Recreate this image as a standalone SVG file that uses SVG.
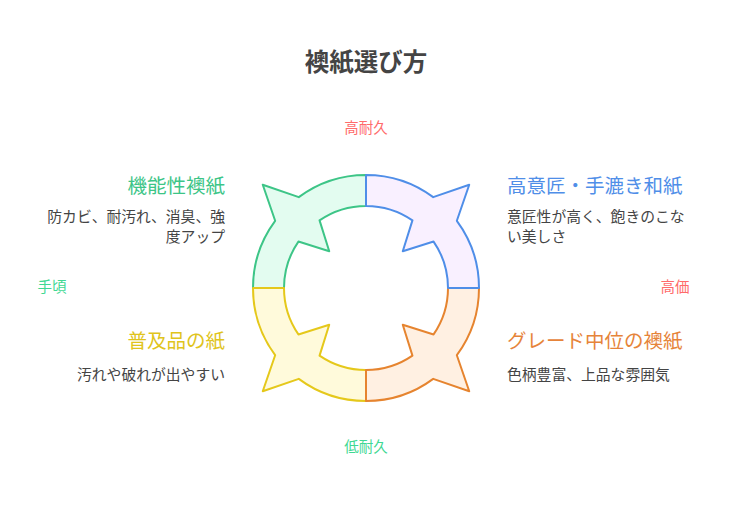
<svg xmlns="http://www.w3.org/2000/svg" width="732" height="522" viewBox="0 0 732 522">
<defs>
<style>
text{font-family:"Noto Sans CJK JP","Noto Sans",sans-serif;}
.title{font-size:24.5px;font-weight:bold;fill:#444;text-anchor:middle;}
.axis{font-size:14.5px;text-anchor:middle;}
.hi{fill:#ff6b6b;}
.lo{fill:#3fd893;}
.head{font-size:19.5px;}
.desc{font-size:14.8px;fill:#444;}
.r{text-anchor:end;}
.seg{stroke-width:2;stroke-linejoin:round;}
</style>
<path id="q" d="M0,-113 A113,113 0 0 1 67.21,-90.84 L103.24,-103.24 L90.84,-67.21 A113,113 0 0 1 113,0 L82,0 A82,82 0 0 0 67.58,-46.44 L36.77,-36.77 L46.44,-67.58 A82,82 0 0 0 0,-82 Z"/>
</defs>
<rect width="732" height="522" fill="#fff"/>
<text class="title" x="366" y="71">襖紙選び方</text>
<g id="cycle">
<use id="seg-green" href="#q" class="seg" fill="#e3fcf0" stroke="#3dc587" transform="translate(366,288) rotate(270)"/>
<use id="seg-yellow" href="#q" class="seg" fill="#fffadb" stroke="#e5c81b" transform="translate(366,288) rotate(180)"/>
<use id="seg-orange" href="#q" class="seg" fill="#fff0e2" stroke="#e6842f" transform="translate(366,288) rotate(90)"/>
<use id="seg-blue" href="#q" class="seg" fill="#f9f0ff" stroke="#4f8ee8" transform="translate(366,288)"/>
</g>
<g id="axis-labels">
<text class="axis hi" x="366" y="133">高耐久</text>
<text class="axis lo" x="366" y="452">低耐久</text>
<text class="axis lo" x="52" y="292">手頃</text>
<text class="axis hi" x="675" y="292">高価</text>
</g>
<g id="node-functional">
<text class="head r" x="225" y="193" fill="#3dc587">機能性襖紙</text>
<text class="desc r" x="225" y="221.5">防カビ、耐汚れ、消臭、強</text>
<text class="desc r" x="225" y="241.5">度アップ</text>
</g>
<g id="node-design">
<text class="head" x="507" y="193" fill="#4f8ee8">高意匠・手漉き和紙</text>
<text class="desc" x="507" y="221.5">意匠性が高く、飽きのこな</text>
<text class="desc" x="507" y="241.5">い美しさ</text>
</g>
<g id="node-basic">
<text class="head r" x="225" y="348" fill="#e0c41c">普及品の紙</text>
<text class="desc r" x="225" y="380">汚れや破れが出やすい</text>
</g>
<g id="node-mid">
<text class="head" x="507" y="348" fill="#e6843a">グレード中位の襖紙</text>
<text class="desc" x="507" y="380">色柄豊富、上品な雰囲気</text>
</g>
</svg>
